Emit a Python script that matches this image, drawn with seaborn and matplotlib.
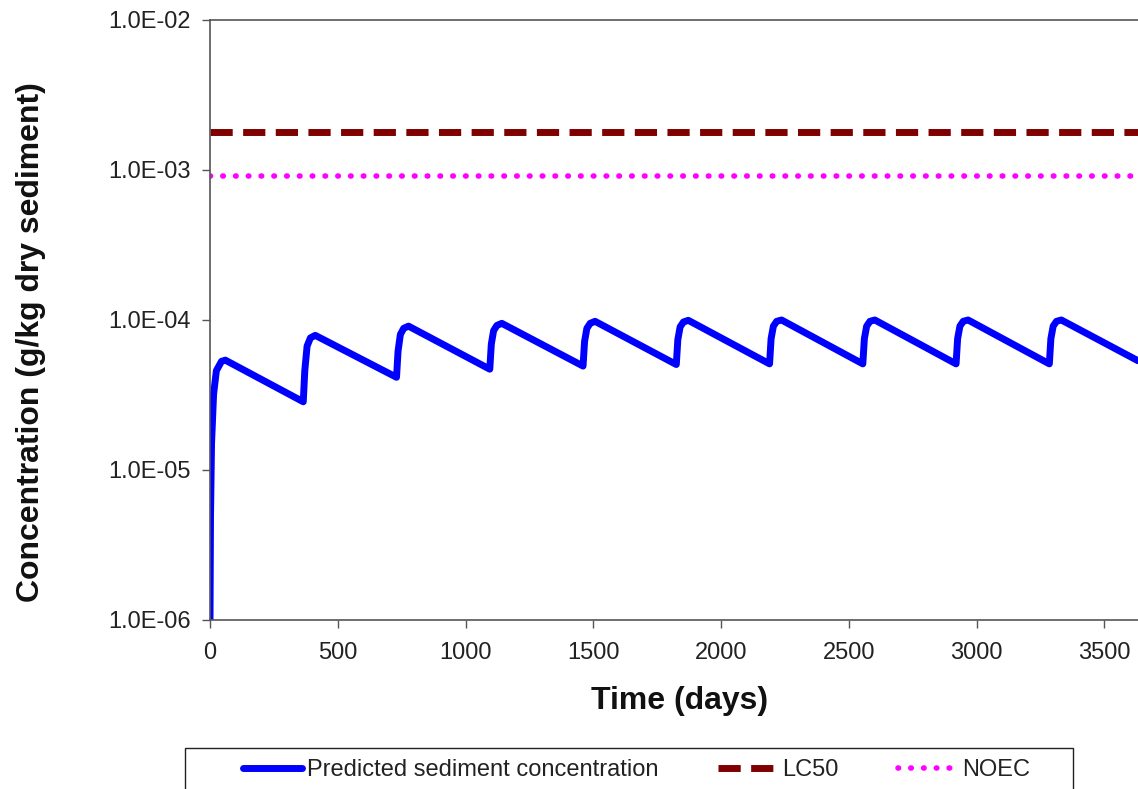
import numpy as np
import pandas as pd
import matplotlib
matplotlib.use("Agg")
import matplotlib.pyplot as plt
from matplotlib.patches import Rectangle
from matplotlib.ticker import FuncFormatter, FixedLocator, NullLocator
import seaborn as sns

# Predicted sediment concentration (day, g/kg)
days = [0, 2, 6, 14, 25, 45, 60,
        365, 371, 380, 393, 412,
        730, 736, 745, 758, 777,
        1095, 1101, 1110, 1123, 1142,
        1460, 1466, 1475, 1488, 1507,
        1825, 1831, 1840, 1853, 1872,
        2190, 2196, 2205, 2218, 2237,
        2555, 2561, 2570, 2583, 2602,
        2920, 2926, 2935, 2948, 2967,
        3285, 3291, 3300, 3313, 3332,
        3632]
conc = [1.0e-6, 5.0e-6, 1.5e-5, 3.2e-5, 4.6e-5, 5.3e-5, 5.4e-5,
        2.85e-5, 4.6e-5, 6.7e-5, 7.6e-5, 7.9e-5,
        4.15e-5, 6.2e-5, 8.0e-5, 8.8e-5, 9.1e-5,
        4.7e-5, 6.9e-5, 8.5e-5, 9.2e-5, 9.5e-5,
        4.93e-5, 7.2e-5, 8.8e-5, 9.5e-5, 9.8e-5,
        5.05e-5, 7.4e-5, 9.0e-5, 9.7e-5, 9.95e-5,
        5.1e-5, 7.5e-5, 9.1e-5, 9.8e-5, 1.0e-4,
        5.1e-5, 7.5e-5, 9.1e-5, 9.8e-5, 1.0e-4,
        5.1e-5, 7.5e-5, 9.1e-5, 9.8e-5, 1.0e-4,
        5.1e-5, 7.5e-5, 9.1e-5, 9.8e-5, 1.0e-4,
        5.35e-5]

lc50 = 1.8e-3
noec = 9.1e-4

x_ticks = [0, 500, 1000, 1500, 2000, 2500, 3000, 3500]
y_ticks = [1e-6, 1e-5, 1e-4, 1e-3, 1e-2]

df = pd.DataFrame({"Time": days, "Conc": conc})

sns.set_style("ticks")
plt.rcParams["font.family"] = ["Liberation Sans", "DejaVu Sans"]

W, H = 1138, 789
fig = plt.figure(figsize=(W / 100, H / 100), dpi=100)
ax = fig.add_axes([210 / W, 1 - 620 / H, 1 - 210 / W, 600 / H])

sns.lineplot(data=df, x="Time", y="Conc", ax=ax, color="#0000FF", linewidth=5,
             label="Predicted sediment concentration")
ax.axhline(lc50, color="#800000", linewidth=5, linestyle=(0, (3.2, 1.5)), label="LC50")
ax.axhline(noec, color="#FF00FF", linewidth=4, linestyle=(0, (0.1, 2.2)),
           dash_capstyle="round", label="NOEC")

ax.set_yscale("log")
ax.set_ylim(1e-6, 1e-2)
ax.set_xlim(0, 3632)
ax.yaxis.set_major_locator(FixedLocator(y_ticks))
ax.yaxis.set_minor_locator(NullLocator())
ax.yaxis.set_major_formatter(FuncFormatter(lambda v, p: f"{v:.1E}"))
ax.set_xticks(x_ticks)

ax.tick_params(axis="both", labelsize=17, length=6, width=1, color="#555555",
               labelcolor="#222222")
ax.tick_params(axis="x", pad=10)
ax.tick_params(axis="y", pad=8)
for s in ["left", "bottom", "top"]:
    ax.spines[s].set_color("#555555")
    ax.spines[s].set_linewidth(1.2)
ax.spines["right"].set_visible(False)

ax.set_xlabel("Time (days)", fontsize=23, fontweight="bold", color="#111111")
ax.set_ylabel("Concentration (g/kg dry sediment)", fontsize=23, fontweight="bold",
              color="#111111")
ax.xaxis.set_label_coords((680 - 210) / 928, (620 - 686) / 600)
ax.yaxis.set_label_coords((46 - 210) / 928, (620 - 342) / 600)

# legend: frame drawn separately so the handles sit inset like the original
ax.legend_.remove()
handles, labels = ax.get_legend_handles_labels()
fig.patches.append(Rectangle((185 / W, -0.05), (1073 - 185) / W, 0.05 + 1 - 748 / H,
                             transform=fig.transFigure, fill=False,
                             edgecolor="#222222", linewidth=1))
leg = fig.legend(handles, labels, ncol=3, loc="center left",
                 bbox_to_anchor=(243 / W, 1 - 770 / H, (1030 - 243) / W, 0),
                 mode="expand", fontsize=17, frameon=False,
                 handlelength=2.5, handletextpad=0.2, borderpad=0,
                 borderaxespad=0, columnspacing=2.0)
for t in leg.get_texts():
    t.set_color("#222222")

plt.savefig("out.png", dpi=100, facecolor="white")
